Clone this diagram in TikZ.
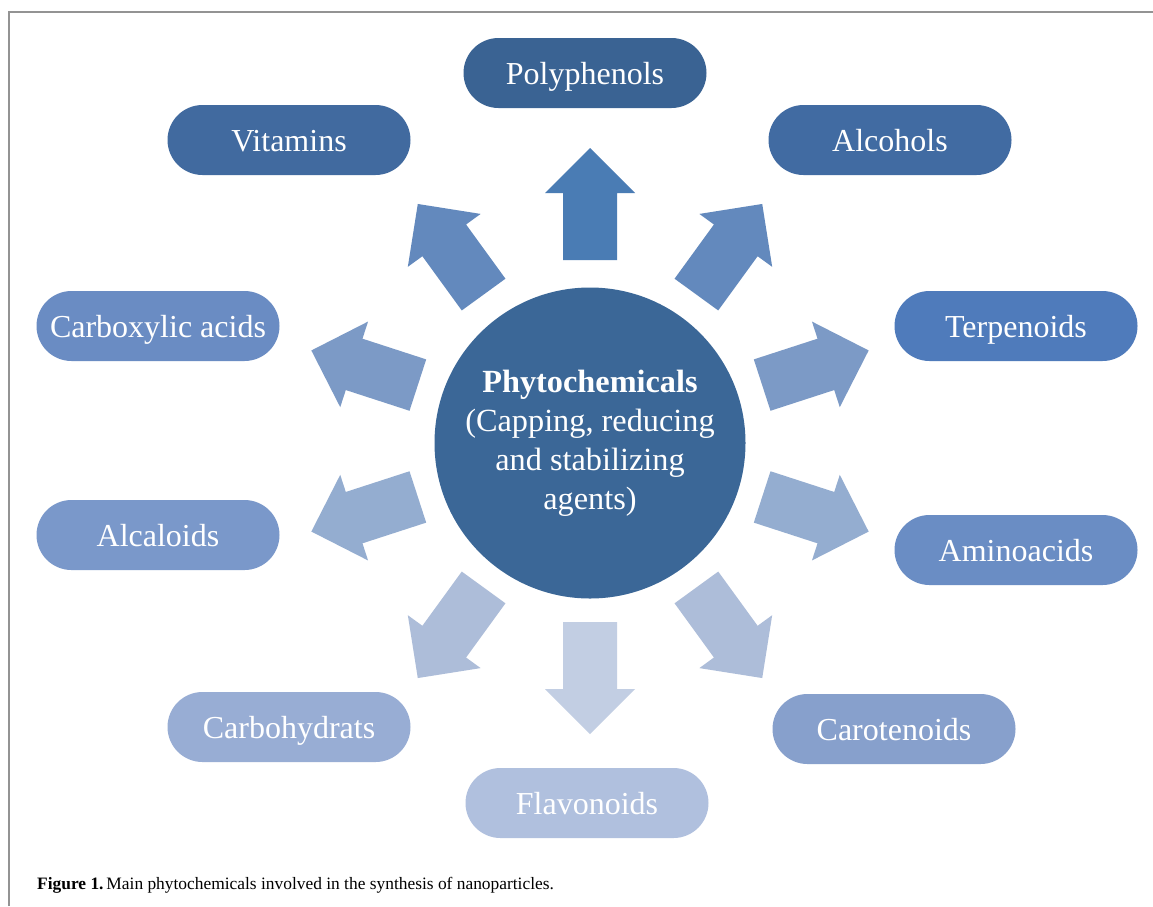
\documentclass[tikz,border=0pt]{standalone}
\usepackage{fontspec}
\setmainfont{Liberation Serif}
\definecolor{cCirc}{HTML}{3B6797}
\definecolor{pPoly}{HTML}{3A6393}
\definecolor{pVit}{HTML}{416A9F}
\definecolor{pAlc}{HTML}{416BA2}
\definecolor{pCarb}{HTML}{6A8CC3}
\definecolor{pTerp}{HTML}{4F7BBB}
\definecolor{pAlca}{HTML}{7A98CA}
\definecolor{pAmin}{HTML}{6A8DC4}
\definecolor{pCarbo}{HTML}{98ADD4}
\definecolor{pCarot}{HTML}{87A0CC}
\definecolor{pFlav}{HTML}{B0C0DE}
\definecolor{aA}{HTML}{4A7CB4}
\definecolor{aB}{HTML}{6389BD}
\definecolor{aC}{HTML}{7C9AC6}
\definecolor{aD}{HTML}{94ADD0}
\definecolor{aE}{HTML}{ADBDD9}
\definecolor{aF}{HTML}{C2CEE3}
\newcommand\myblockarrow[2]{%
  \begin{scope}[shift={(ctr)}, rotate=#1]
    \fill[#2] (181,-27) -- (248,-27) -- (248,-45) -- (293,0) -- (248,45) -- (248,27) -- (181,27) -- cycle;
  \end{scope}}
\begin{document}
\begin{tikzpicture}[x=1pt,y=-1pt,
  pill/.style={rounded corners=35pt, minimum width=243pt, minimum height=70pt, inner sep=0pt, text height=24pt, text depth=2pt, text=white, font=\fontsize{32}{38}\selectfont},
  hub/.style={circle, fill=cCirc, minimum size=311pt, inner sep=0pt, text=white, align=center, font=\fontsize{32.3}{39}\selectfont}]
\useasboundingbox (0,0) rectangle (1153,906);
\fill[white] (0,0) rectangle (1153,906);
\draw[gray!85, line width=1.5pt] (9,906) -- (9,12) -- (1153,12);
\coordinate (ctr) at (590,441);
\node[hub] (hub) at (590,443) {\textbf{Phytochemicals}\\(Capping, reducing\\and stabilizing\\agents)};
\myblockarrow{90}{aA}
\myblockarrow{126}{aB}
\myblockarrow{54}{aB}
\myblockarrow{162}{aC}
\myblockarrow{18}{aC}
\myblockarrow{198}{aD}
\myblockarrow{-18}{aD}
\myblockarrow{234}{aE}
\myblockarrow{-54}{aE}
\myblockarrow{270}{aF}
\node[pill, fill=pPoly] (poly) at (585,73) {Polyphenols};
\node[pill, fill=pVit] (vit) at (289,140) {Vitamins};
\node[pill, fill=pAlc] (alc) at (890,140) {Alcohols};
\node[pill, fill=pCarb] (carb) at (158,326) {Carboxylic acids};
\node[pill, fill=pTerp] (terp) at (1016,326) {Terpenoids};
\node[pill, fill=pAlca] (alca) at (158,535) {Alcaloids};
\node[pill, fill=pAmin] (amin) at (1016,550) {Aminoacids};
\node[pill, fill=pCarbo] (carbo) at (289,727) {Carbohydrats};
\node[pill, fill=pCarot] (carot) at (894,729) {Carotenoids};
\node[pill, fill=pFlav] (flav) at (587,803) {Flavonoids};
\node[anchor=base west, inner sep=0pt, font=\fontsize{17.4}{20}\selectfont] (cap) at (37,889) {\textbf{Figure 1.}\,Main phytochemicals involved in the synthesis of nanoparticles.};
\end{tikzpicture}
\end{document}
